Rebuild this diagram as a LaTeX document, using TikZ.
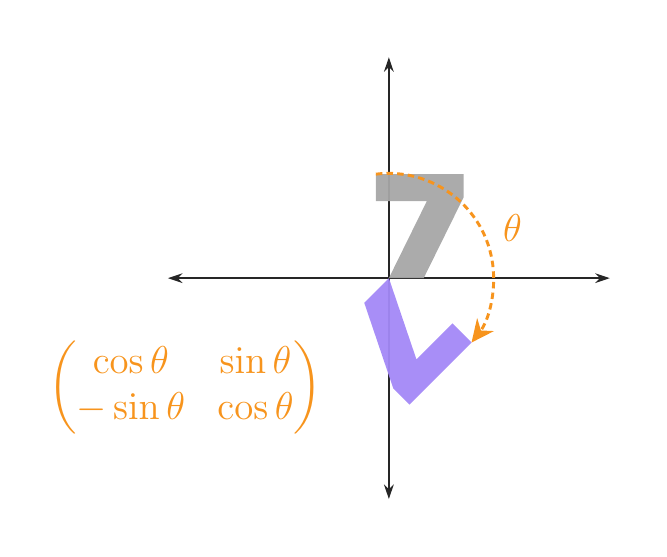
\documentclass[tikz,border=0pt]{standalone}
\usepackage{amsmath}
\usepackage{amssymb}
\usepackage{tikz}
\usetikzlibrary{arrows.meta}

\definecolor{rotorange}{HTML}{F7941D}
\definecolor{rotpurple}{HTML}{A388F7}
\definecolor{sevengray}{HTML}{A6A6A6}

\begin{document}
\begin{tikzpicture}[x=0.565cm, y=0.565cm]
            \useasboundingbox (-7.48,-5.35) rectangle (5.35,5.35);
            \draw[{Stealth[length=4.5pt,width=3pt]}-{Stealth[length=4.5pt,width=3pt]}, black!85, line width=0.45pt] (-4.25, 0) -- (4.25, 0);
            \draw[{Stealth[length=4.5pt,width=3pt]}-{Stealth[length=4.5pt,width=3pt]}, black!85, line width=0.45pt] (0, -4.25) -- (0, 4.25);
            \fill[sevengray, opacity=0.95] (-0.25,2) -- (1.44,2) -- (1.44,1.56) -- (0.67,0) -- (0,0) -- (0.73,1.48) -- (-0.25,1.48) -- cycle;
            \fill[rotpurple, opacity=0.95, rotate=-135] (-0.25,2) -- (1.44,2) -- (1.44,1.56) -- (0.67,0) -- (0,0) -- (0.73,1.48) -- (-0.25,1.48) -- cycle;
            \coordinate (start) at (-0.25,2);
            \draw[rotorange, line width=0.9pt, dash pattern=on 2pt off 1.3pt, -{Stealth[length=7pt,width=6.5pt]}] (start) arc[start angle=97.1, end angle=-37.9, radius=2.016];
            \node[rotorange, inner sep=1pt, font=\large] (theta) at (2.38,0.96) {$\theta$};
            \node[rotorange, inner sep=1pt, font=\large] (rot) at (-3.92,-2.1) {$\begin{pmatrix}\cos\theta & \sin\theta\\ -\sin\theta & \cos\theta\end{pmatrix}$};
        \end{tikzpicture}
\end{document}
